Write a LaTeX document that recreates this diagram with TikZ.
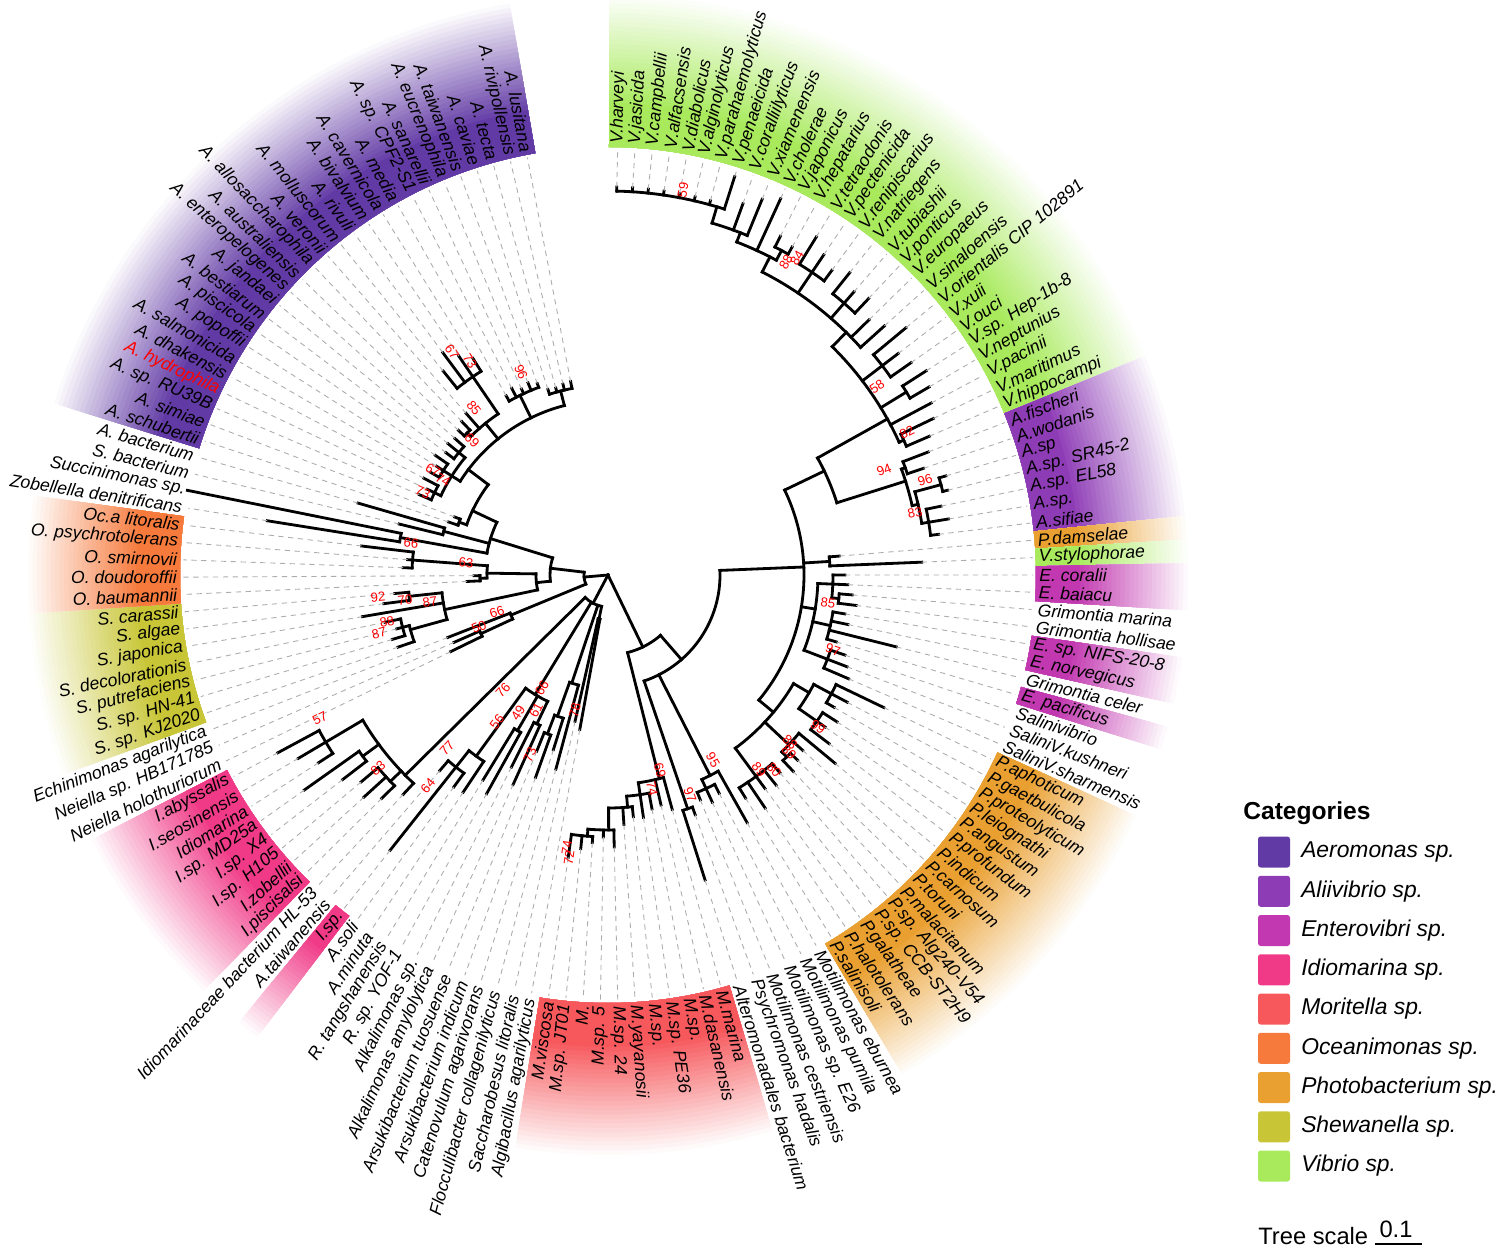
\documentclass[tikz,border=0pt]{standalone}
\usepackage{fontspec}
\setmainfont{Liberation Sans}
\usetikzlibrary{positioning}
\definecolor{caer}{RGB}{98,58,165}
\definecolor{cali}{RGB}{142,60,182}
\definecolor{cent}{RGB}{194,56,176}
\definecolor{cidi}{RGB}{240,58,135}
\definecolor{cmor}{RGB}{246,88,92}
\definecolor{coce}{RGB}{246,122,60}
\definecolor{cpho}{RGB}{234,160,48}
\definecolor{cshe}{RGB}{200,198,54}
\definecolor{cvib}{RGB}{168,234,92}
% leaf index -> angle
\newcommand\ang[1]{(88.7-(#1-1)*2.334)}
% radial branch / arc of a clade
\newcommand\stm[3]{\draw[br] ({\ang{#1}}:#2) -- ({\ang{#1}}:#3);}
\newcommand\arcx[3]{\draw[br] ({\ang{#1}}:#3) arc[start angle={\ang{#1}},end angle={\ang{#2}},radius=#3*0.02cm];}
% coloured strip behind labels
\newcommand\band[3]{%
  \pgfmathsetmacro\bandA{88.7-(#1-1)*2.334+1.167}%
  \pgfmathsetmacro\bandB{88.7-(#2-1)*2.334-1.167}%
  \foreach \k in {0,...,24}{%
    \pgfmathsetmacro\bandR{580-\k*4.5}%
    \pgfmathtruncatemacro\bandP{3+\k*97/24}%
    \fill[#3!\bandP!white] (\bandA:428) arc[start angle=\bandA,end angle=\bandB,radius=428*0.02cm]
      -- (\bandB:\bandR) arc[start angle=\bandB,end angle=\bandA,radius=\bandR*0.02cm] -- cycle;}}
\begin{document}
\begin{tikzpicture}[x=0.02cm,y=0.02cm,
  br/.style={line width=1.6pt,line cap=rect},
  dl/.style={gray!65,line width=0.5pt,dash pattern=on 3pt off 2.6pt},
  lab/.style={inner sep=0pt,font=\fontsize{10}{12}\selectfont\itshape},
  boot/.style={inner sep=0pt,text=red,font=\fontsize{7.5}{9}\selectfont},
  legbox/.style={minimum width=0.64cm,minimum height=0.62cm,inner sep=0pt,rounded corners=1.5pt},
  legtxt/.style={inner sep=0pt,font=\fontsize{13}{15}\selectfont\itshape}]
\useasboundingbox (-608,-672) rectangle (892,575);

% strips
\band{1}{29}{cvib}
\band{30}{36}{cali}
\band{37}{37}{cpho}
\band{38}{38}{cvib}
\band{39}{40}{cent}
\band{43}{44}{cent}
\band{46}{46}{cent}
\band{50}{64}{cpho}
\band{71}{81}{cmor}
\band{94}{94}{cidi}
\band{97}{104}{cidi}
\band{108}{114}{cshe}
\band{115}{119}{coce}
\band{124}{150}{caer}

% root
\stm{114}{0}{24}
\stm{89.5}{0}{32}
\stm{66.5}{0}{80}
% left clade
\arcx{106.5}{119}{24}
\stm{106.5}{24}{105} \arcx{105.5}{107}{105}
\stm{105.5}{105}{140} \arcx{105}{106}{140}
\stm{119}{24}{58} \arcx{113.5}{123.5}{58}
\stm{113.5}{58}{72} \arcx{111}{116.5}{72}
\stm{111}{72}{167} \arcx{109.5}{113.5}{167}
\stm{109.5}{167}{205} \arcx{108}{110}{205}
\stm{110}{205}{212} \arcx{109}{111}{212}
\stm{113.5}{167}{200} \arcx{113}{114}{200}
\stm{116.5}{72}{121} \arcx{115.5}{118}{121}
\stm{115.5}{121}{128} \arcx{115}{116}{128}
\stm{118}{121}{196} \arcx{117}{119}{196}
\stm{123.5}{58}{123} \arcx{120.5}{127}{123}
\stm{120.5}{123}{211} \arcx{120}{121}{211}
\stm{122.5}{123}{170} \arcx{122}{123}{170}
% Aeromonas
\stm{127}{123}{150} \arcx{124.5}{132}{150}
\stm{124.5}{150}{158} \arcx{124}{125}{158}
\stm{132}{150}{175} \arcx{130}{148.5}{175}
\stm{130}{175}{185} \arcx{127}{133}{185}
\stm{127}{185}{192} \arcx{126}{128}{192}
\stm{130}{185}{195} \arcx{129}{131}{195}
\stm{133}{185}{193} \arcx{132}{134}{193}
\stm{138}{175}{195} \arcx{135.5}{140}{195}
\stm{135.5}{195}{200} \arcx{135}{136}{200}
\stm{140}{195}{240} \arcx{138}{141}{240}
\stm{143.5}{175}{200} \arcx{142}{146}{200}
\stm{148.5}{175}{190} \arcx{147}{150}{190}
% lower fan
\arcx{82.5}{97}{32}
\stm{82.5}{32}{45} \arcx{82}{83}{45}
\stm{85.5}{32}{114} \arcx{84}{86}{114}
\stm{86}{114}{150} \arcx{85}{86.5}{150}
\stm{86.5}{150}{170} \arcx{86}{87}{170}
\stm{91}{32}{140} \arcx{88.5}{93}{140}
\stm{88.5}{140}{165} \arcx{88}{89}{165}
\stm{90.5}{140}{180} \arcx{90}{91}{180}
\stm{93}{140}{224} \arcx{92}{94}{224}
\stm{94}{224}{245} \arcx{93}{95}{245}
\stm{97}{32}{285} \arcx{96}{103}{285}
\stm{97.5}{285}{300} \arcx{97}{99}{300}
\stm{100.5}{285}{305} \arcx{100}{101}{305}
\stm{103}{285}{328} \arcx{102}{104}{328}
% Moritella and right half
\arcx{60}{71.5}{80}
\stm{71.5}{80}{210} \arcx{71}{74}{210}
\stm{74}{210}{222} \arcx{73}{75.5}{222}
\stm{75.5}{222}{233} \arcx{75}{77.5}{233}
\stm{77.5}{233}{255} \arcx{77}{79.5}{255}
\stm{79.5}{255}{262} \arcx{79}{81}{262}
\stm{60}{80}{112} \arcx{38}{69.5}{112}
\stm{69.5}{112}{247} \arcx{69}{70}{247}
\stm{66}{112}{225} \arcx{65}{67}{225}
\stm{67}{225}{235} \arcx{66}{68}{235}
\stm{38}{112}{196} \arcx{28}{56}{196}
% Vibrio / Aliivibrio
\stm{28}{196}{240} \arcx{26.5}{31.5}{240}
\stm{26.5}{240}{320} \arcx{19.5}{28.5}{320}
\stm{28.5}{320}{325} \arcx{28}{29}{325}
\stm{25.5}{320}{350} \arcx{25}{26}{350}
\stm{23}{320}{345} \arcx{22}{24}{345}
\stm{19.5}{320}{340} \arcx{12}{21}{340}
\stm{18}{340}{360} \arcx{17}{19}{360}
\stm{15}{340}{365} \arcx{14}{16}{365}
\stm{12}{340}{357} \arcx{9.5}{12.5}{357}
\stm{12.5}{357}{368} \arcx{12}{13}{368}
\stm{9.5}{357}{367} \arcx{7.5}{10}{367}
\stm{7.5}{367}{384} \arcx{1}{8}{384}
\stm{31.5}{240}{312} \arcx{30.5}{33.5}{312}
\stm{30.5}{312}{316} \arcx{30}{31}{316}
\stm{33.5}{312}{318} \arcx{32.5}{35}{318}
\stm{32.5}{318}{345} \arcx{32}{33}{345}
\stm{35}{318}{325} \arcx{34}{36}{325}
\stm{37.5}{196}{222} \arcx{37}{38}{222}
% Enterovibrio, Grimontia, Salinivibrio
\stm{43}{196}{210} \arcx{40}{48}{210}
\stm{40}{210}{225} \arcx{39}{41.5}{225}
\stm{41.5}{225}{232} \arcx{41}{42}{232}
\stm{44.5}{210}{228} \arcx{43}{46}{228}
\stm{48}{210}{235} \arcx{47}{49}{235}
% Photobacterium
\stm{56}{196}{215} \arcx{52}{62}{215}
\stm{52}{215}{233} \arcx{51}{54}{233}
\stm{51}{233}{253} \arcx{50}{52}{253}
\stm{54}{233}{255} \arcx{53}{55}{255}
\stm{57.5}{215}{248} \arcx{56}{58.5}{248}
\stm{58.5}{248}{255} \arcx{58}{59}{255}
\stm{62}{215}{250} \arcx{60}{64}{250}

% leaves
\foreach \lab/\rp/\rt [count=\i] in {
V.harveyi/384/388, V.jasicida/384/388, V.campbellii/384/388, V.alfacsensis/384/388,
V.diabolicus/384/388, V.alginolyticus/384/388, V.parahaemolyticus/384/388, V.penaeicida/384/418,
V.coralliilyticus/367/395, V.xiamenensis/367/406, V.cholerae/357/414, V.japonicus/368/380,
V.hepatarius/368/376, V.tetraodonis/365/397, V.pectenicida/365/386, V.renipiscarius/365/378,
V.natriegens/360/387, V.tubiashii/360/375, V.ponticus/360/380, V.europaeus/340/365,
V.sinaloensis/340/372, V.orientalis CIP 102891/345/387, V.xuii/345/365, V.ouci/345/370,
V.sp. Hep-1b-8/350/378, V.neptunius/350/372, V.pacinii/320/366, V.maritimus/325/361,
V.hippocampi/325/350, A.fischeri/316/343, A.wodanis/316/333, A.sp/345/352,
A.sp. SR45-2/345/350, A.sp. EL58/325/340, A.sp./325/345, A.sifiae/325/333,
P.damselae/222/232, V.stylophorae/222/314, E. coralii/225/237, E. baiacu/225/240,
Grimontia marina/232/245, Grimontia hollisae/232/250, E. sp. NIFS-20-8/228/240, E. norvegicus/228/245,
Grimontia celer/228/297, E. pacificus/228/238, Salinivibrio/235/250, SaliniV.kushneri/235/256,
SaliniV.sharmensis/235/262, P.aphoticum/253/306, P.gaetbulicola/253/271, P.proteolyticum/253/262,
P.leiognathi/255/272, P.angustum/255/265, P.profundum/255/278, P.indicum/248/295,
P.carnosum/248/262, P.toruni/255/265, P.malacitanum/255/270, P.sp. Alg240-V54/250/262,
P.sp. CCB-ST2H9/250/269, P.galatheae/250/265, P.halotolerans/250/281, P.salinisoli/250/262,
Motilimonas eburnea/225/284, Motilimonas pumila/235/245, Motilimonas sp. E26/235/250, Motilimonas cestriensis/235/243,
Psychromonas hadalis/247/255, Alteromonadales bacterium/247/320, M.marina/210/243, M.dasanensis/210/236,
M.sp./222/238, M.sp. PE36/222/245, M.sp./233/243, M.yayanosii/233/250,
M.sp. 24/255/272, M.sp. 5/255/262, M./262/268, M.sp. JT01/262/275,
M.viscosa/262/285, Algibacillus agarilyticus/45/157, Saccharobesus litoralis/45/150, Flocculibacter collagenilyticus/114/201,
Catenovulum agarivorans/150/183, Arsukibacterium indicum/170/215, Arsukibacterium tuosuense/170/190, Alkalimonas amylolytica/165/230,
Alkalimonas sp./165/215, R. sp. YOF-1/180/250, R. tangshanensis/180/240, A.minuta/224/261,
A.soli/245/262, I.sp./245/351, A.taiwanensis/245/258, Idiomarinaceae bacterium HL-53/285/300,
I.piscisalsi/300/318, I.zobellii/300/330, I.sp. H105/300/322, I.sp. X4/305/335,
I.sp. MD25a/305/372, Idiomarina/328/345, I.seosinensis/328/360, I.abyssalis/328/375,
Neiella holothuriorum/140/175, Neiella sp. HB171785/140/168, Echinimonas agarilytica/105/172, S. sp. KJ2020/205/222,
S. sp. HN-41/212/225, S. putrefaciens/212/218, S. decolorationis/212/228, S. japonica/167/249,
S. algae/200/226, S. carassii/200/214, O. baumannii/128/141, O. doudoroffii/128/134,
O. smirnovii/196/205, O. psychrotolerans/196/201, Oc.a litoralis/196/248, Zobellella denitrificans/211/345,
Succinimonas sp./211/429, S. bacterium/170/215, A. bacterium/170/260, A. schubertii/158/168,
A. simiae/158/164, A. sp. RU39B/192/205, \textcolor{red}{A. hydrophila}/192/200, A. dhakensis/192/208,
A. salmonicida/195/205, A. popoffii/195/203, A. piscicola/195/210, A. bestiarum/193/203,
A. jandaei/193/207, A. enteropelogenes/193/205, A. australiensis/200/208, A. allosaccharophila/200/212,
A. veronii/195/215, A. molluscorum/240/262, A. rivuli/240/277, A. bivalvium/240/265,
A. cavernicola/240/255, A. media/200/206, A. sp. CPF2-S1/200/210, A. sanarellii/200/205,
A. eucrenophila/200/208, A. taiwanensis/200/204, A. caviae/190/195, A. tecta/190/194,
A. rivipollensis/190/196, A. lusitana/190/197}{
  \pgfmathsetmacro\t{88.7-(\i-1)*2.334}
  \draw[br] (\t:\rp) -- (\t:\rt);
  \ifdim\rt pt<424pt \draw[dl] (\t:\rt) -- (\t:425); \fi
  \ifdim\t pt>-90pt
    \node[lab,anchor=west,rotate=\t] (leaf\i) at (\t:431) {\lab};
  \else
    \node[lab,anchor=east,rotate=\t+180] (leaf\i) at (\t:431) {\lab};
  \fi
}

% bootstrap values
\foreach \x/\y/\v [count=\k] in {
452/352/67, 470/361/73, 521/372/96, 474/408/85, 472/440/69, 433/470/67, 443/480/74, 423/492/73,
411/543/66, 466/563/63, 378/597/92, 405/600/70, 430/602/87, 387/622/88, 379/633/87, 479/627/50, 497/612/66,
320/718/57, 378/768/83, 428/786/64, 447/748/77, 497/722/56, 503/690/76, 518/713/49, 536/710/61,
542/688/66, 530/755/73, 575/710/78, 567/848/74, 569/858/72, 660/770/69, 652/789/74, 690/795/97, 713/760/95,
828/603/85, 833/650/97, 818/727/99, 790/742/88, 789/752/89, 759/770/89, 774/770/80,
683/190/59, 786/262/88, 797/258/84, 877/387/58, 907/432/82, 884/470/94, 925/480/96, 915/513/83}{
  \pgfmathsetmacro\bt{atan2(575-\y,\x-608)}
  \ifdim\bt pt>90pt \pgfmathsetmacro\bt{\bt-180}\fi
  \ifdim\bt pt<-90pt \pgfmathsetmacro\bt{\bt+180}\fi
  \node[boot,rotate=\bt] (bs\k) at (\x-608,575-\y) {\v};
}

% legend
\node[anchor=west,inner sep=0pt,font=\fontsize{14}{16}\selectfont\bfseries] (cat) at (635,-238) {Categories};
\foreach \c/\t [count=\k] in {caer/Aeromonas sp., cali/Aliivibrio sp., cent/Enterovibri sp.,
  cidi/Idiomarina sp., cmor/Moritella sp., coce/Oceanimonas sp., cpho/Photobacterium sp.,
  cshe/Shewanella sp., cvib/Vibrio sp.}{
  \node[legbox,fill=\c] (key\k) at (666,{-277-(\k-1)*39.25}) {};
  \node[legtxt,right=6pt of key\k] (keytxt\k) {\t};
}
\node[anchor=west,inner sep=0pt,font=\fontsize{13.5}{15}\selectfont] (tsc) at (650,-661) {Tree scale};
\coordinate (sb1) at (767,-669);
\coordinate (sb2) at (814,-669);
\draw[line width=1.2pt] (sb1) -- (sb2);
\node[inner sep=0pt,font=\fontsize{13.5}{15}\selectfont] (tsv) at (788,-654) {0.1};
\end{tikzpicture}
\end{document}
